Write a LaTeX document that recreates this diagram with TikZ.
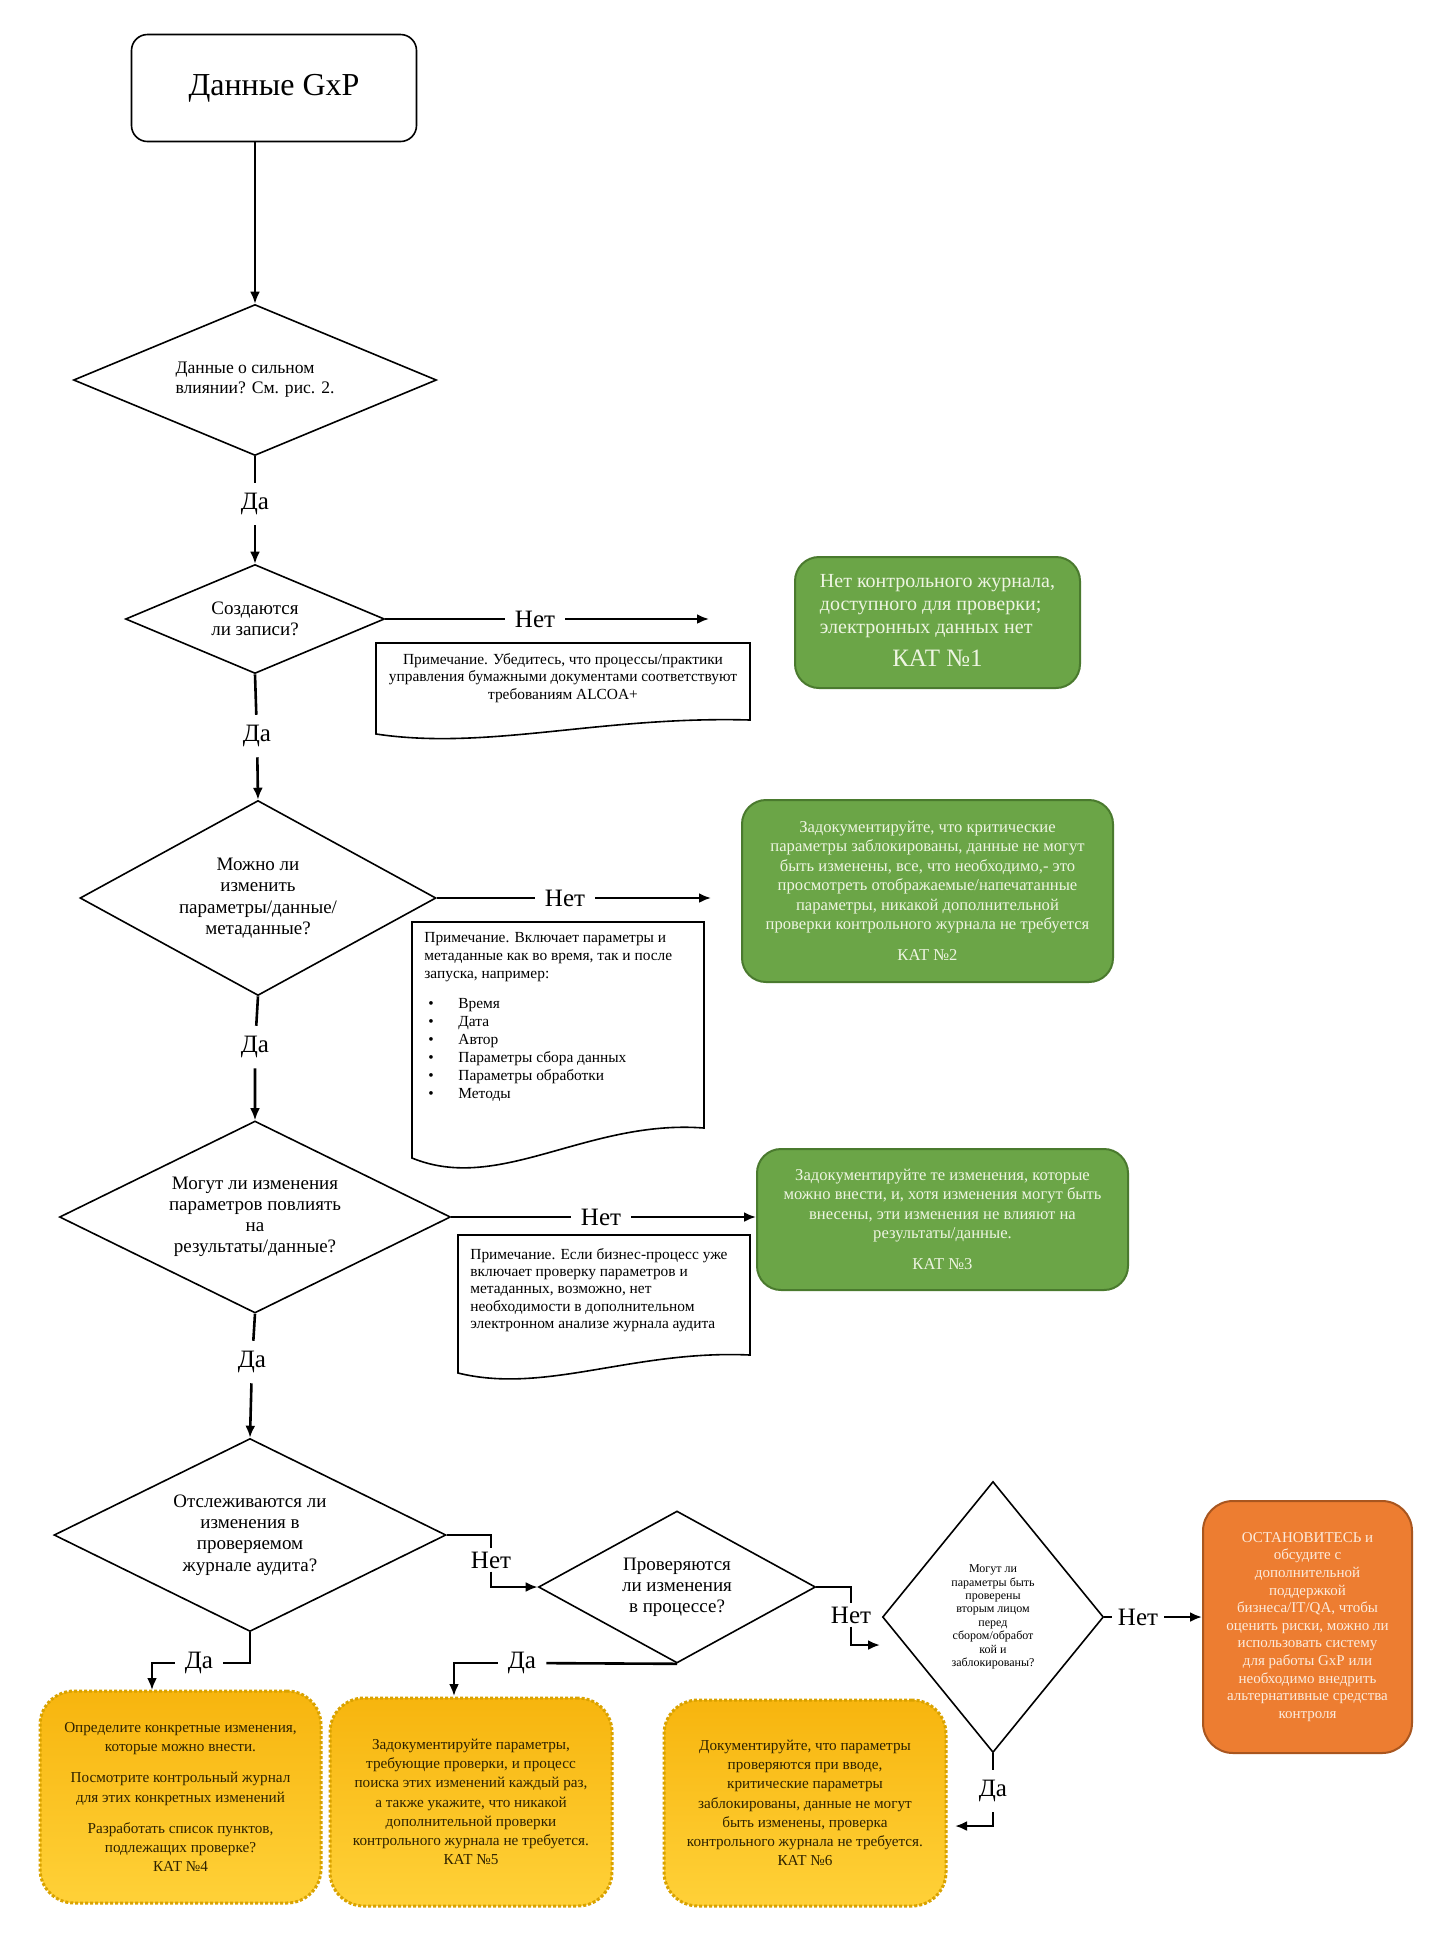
\documentclass[tikz,border=0pt]{standalone}
\usepackage{fontspec}
\setmainfont{Liberation Serif}
\usetikzlibrary{shapes.geometric,arrows.meta}
\definecolor{okgreen}{HTML}{6BA547}
\definecolor{okline}{HTML}{4A7A2E}
\definecolor{oktext}{HTML}{EEF5E2}
\definecolor{stopfill}{HTML}{ED7D31}
\definecolor{stopline}{HTML}{A9561F}
\definecolor{stoptext}{HTML}{FCEBDC}
\definecolor{goldtop}{HTML}{F7B50E}
\definecolor{goldbot}{HTML}{FFD138}
\definecolor{goldline}{HTML}{D9A200}
\definecolor{goldtext}{HTML}{2E2200}

% note sheet with wavy bottom: L, T, R, y left corner, y right corner
\newcommand\notesheet[5]{%
  \draw[line width=0.8pt] (#1,#4) -- (#1,#2) -- (#3,#2) -- (#3,#5)
    .. controls ({#1+0.6*(#3-#1)},{#5-0.3*(#4-#5)}) and ({#1+0.3*(#3-#1)},{#4+1.2*(#4-#5)}) .. cycle;
}

\begin{document}
\begin{tikzpicture}[x=0.5pt,y=-0.5pt,
  conn/.style={line width=1.3pt},
  arr/.style={conn,-{Latex[length=6pt,width=5pt]}},
  startbox/.style={draw,line width=0.8pt,rounded corners=8pt,minimum width=142.5pt,minimum height=53.5pt,font=\fontsize{16}{18}\selectfont},
  dec/.style={diamond,draw,line width=0.8pt,inner sep=0pt,align=center,font=\fontsize{9.5}{10.6}\selectfont},
  lbl/.style={inner sep=5pt,font=\fontsize{12.5}{14}\selectfont},
  lbls/.style={lbl,inner sep=1.5pt},
  notetext/.style={inner sep=0pt,font=\fontsize{7.7}{8.7}\selectfont},
  okbox/.style={draw=okline,line width=1pt,fill=okgreen,text=oktext,rounded corners=12pt,inner sep=0pt,align=center,font=\fontsize{8.3}{9.7}\selectfont},
  goldbox/.style={draw=goldline,densely dotted,line width=1.5pt,top color=goldtop,bottom color=goldbot,text=goldtext,rounded corners=17pt,inner sep=0pt,align=center,font=\fontsize{7.6}{9.6}\selectfont},
  stopbox/.style={draw=stopline,line width=1pt,fill=stopfill,text=stoptext,rounded corners=15pt,inner sep=0pt,align=center,font=\fontsize{7.5}{8.8}\selectfont}]

\useasboundingbox (0,0) rectangle (1450,1950);
\fill[white] (0,0) rectangle (1450,1950);

% main column of questions
\node[startbox] (start) at (274,88) {Данные GxP};
\node[dec,aspect=2.4,minimum width=181.5pt,minimum height=75.5pt,align=left,font=\fontsize{8.8}{10}\selectfont] (d1) at (255,380)
  {Данные о сильном\\влиянии? См. рис. 2.};
\node[dec,aspect=2.4,minimum width=129.5pt,minimum height=54.5pt] (d2) at (255,619)
  {Создаются\\ли записи?};
\node[dec,aspect=1.8,minimum width=178pt,minimum height=97.5pt] (d3) at (258,898)
  {Можно ли\\изменить\\параметры/данные/\\метаданные?};
\node[dec,aspect=2,minimum width=195.5pt,minimum height=96pt] (d4) at (255,1217)
  {Могут ли изменения\\параметров повлиять\\на\\результаты/данные?};
\node[dec,aspect=2,minimum width=196pt,minimum height=96.5pt] (d5) at (250,1535)
  {Отслеживаются ли\\изменения в\\проверяемом\\журнале аудита?};
\node[dec,aspect=1.8,minimum width=138.5pt,minimum height=76pt] (d6) at (677,1587)
  {Проверяются\\ли изменения\\в процессе?};
\node[dec,aspect=0.8,minimum width=110.5pt,minimum height=135.5pt,font=\fontsize{6}{6.7}\selectfont] (d7) at (993,1617)
  {Могут ли\\параметры быть\\проверены\\вторым лицом\\перед\\сбором/обработ\\кой и\\заблокированы?};

% answers
\foreach \name/\x/\y/\txt in {yes1/255/504/Да,no1/535/619/Нет,yes2/257/736/Да,no2/565/898/Нет,
    yes3/255/1047/Да,no3/601/1217/Нет,yes4/252/1362/Да,yes5/199/1663/Да,yes6/522/1663/Да,yes7/993/1791/Да}
  \node[lbl] (\name) at (\x,\y) {\txt};
\foreach \name/\x/\y in {no4/491/1560,no5/851/1615}
  \node[lbls] (\name) at (\x,\y) {Нет};
\node[lbl,inner xsep=3pt] (no6) at (1138,1617) {Нет};

% categories
\node[okbox,minimum width=142.5pt,minimum height=65.5pt,font=\fontsize{10}{11.5}\selectfont] (cat1) at (937.5,622.5)
  {\begin{tabular}{@{}l@{}}Нет контрольного журнала,\\доступного для проверки;\\электронных данных нет\\[5pt]
   \multicolumn{1}{@{}c@{}}{\fontsize{12.5}{14}\selectfont КАТ №1}\end{tabular}};
\node[okbox,minimum width=185.5pt,minimum height=91pt] (cat2) at (927.5,891)
  {Задокументируйте, что критические\\параметры заблокированы, данные не могут\\быть изменены, все, что необходимо,- это\\
   просмотреть отображаемые/напечатанные\\параметры, никакой дополнительной\\проверки контрольного журнала не требуется\\[6pt]КАТ №2};
\node[okbox,minimum width=185.5pt,minimum height=70.5pt] (cat3) at (942.5,1219.5)
  {Задокументируйте те изменения, которые\\можно внести, и, хотя изменения могут быть\\внесены, эти изменения не влияют на\\результаты/данные.\\[6pt]КАТ №3};
\node[goldbox,minimum width=140.5pt,minimum height=106pt] (cat4) at (180.5,1797)
  {Определите конкретные изменения,\\которые можно внести.\\[6pt]Посмотрите контрольный журнал\\для этих конкретных изменений\\[6pt]
   Разработать список пунктов,\\подлежащих проверке?\\КАТ №4};
\node[goldbox,minimum width=141pt,minimum height=104pt] (cat5) at (471,1802)
  {Задокументируйте параметры,\\требующие проверки, и процесс\\поиска этих изменений каждый раз,\\а также укажите, что никакой\\
   дополнительной проверки\\контрольного журнала не требуется.\\КАТ №5};
\node[goldbox,minimum width=141pt,minimum height=103pt] (cat6) at (805,1803)
  {Документируйте, что параметры\\проверяются при вводе,\\критические параметры\\заблокированы, данные не могут\\
   быть изменены, проверка\\контрольного журнала не требуется.\\КАТ №6};
\node[stopbox,minimum width=104.5pt,minimum height=126pt] (stop) at (1307.5,1627)
  {ОСТАНОВИТЕСЬ и\\обсудите с\\дополнительной\\поддержкой\\бизнеса/IT/QA, чтобы\\оценить риски, можно ли\\
   использовать систему\\для работы GxP или\\необходимо внедрить\\альтернативные средства\\контроля};

% notes
\notesheet{376}{643}{750}{734}{720}
\node[notetext,align=center] (note1) at (563,678)
  {Примечание. Убедитесь, что процессы/практики\\управления бумажными документами соответствуют\\требованиям ALCOA+};
\notesheet{412}{922}{704}{1158}{1128}
\node[notetext,align=left,anchor=north west,font=\fontsize{7.7}{9}\selectfont] (note2) at (424,932)
  {Примечание. Включает параметры и\\метаданные как во время, так и после\\запуска, например:\\[6pt]
   \makebox[17pt][l]{\hspace{2pt}\textbullet}Время\\\makebox[17pt][l]{\hspace{2pt}\textbullet}Дата\\
   \makebox[17pt][l]{\hspace{2pt}\textbullet}Автор\\\makebox[17pt][l]{\hspace{2pt}\textbullet}Параметры сбора данных\\
   \makebox[17pt][l]{\hspace{2pt}\textbullet}Параметры обработки\\\makebox[17pt][l]{\hspace{2pt}\textbullet}Методы};
\notesheet{458}{1235}{750}{1373}{1355}
\node[notetext,align=left,anchor=north west,font=\fontsize{7.7}{8.6}\selectfont] (note3) at (470,1248)
  {Примечание. Если бизнес-процесс уже\\включает проверку параметров и\\метаданных, возможно, нет\\необходимости в дополнительном\\электронном анализе журнала аудита};

% free ends
\coordinate (c1) at (709,619);
\coordinate (c2) at (711,898);
\coordinate (c3) at (880,1645);
\coordinate (c4) at (955,1826);
\coordinate (c5) at (152,1690);
\coordinate (c6) at (454,1696);

% connectors
\draw[arr] (start.south -| d1.north) -- (d1.north);
\draw[arr] (d1.south) -- (yes1) -- (d2.north);
\draw[arr] (d2.east) -- (no1) -- (c1);
\draw[arr] (d2.south) -- (yes2) -- (d3.north);
\draw[arr] (d3.east) -- (no2) -- (c2);
\draw[arr] (d3.south) -- (yes3) -- (d4.north);
\draw[arr] (d4.east) -- (no3) -- (no3 -| cat3.west);
\draw[arr] (d4.south) -- (yes4) -- (d5.north);
\draw[conn] (d5.east) -| (no4);
\draw[arr] (no4) |- (d6.west);
\draw[conn] (d5.south) |- (yes5);
\draw[arr] (yes5) -| (c5);
\draw[conn] (d6.south) -- (yes6);
\draw[arr] (yes6) -| (c6);
\draw[conn] (d6.east) -| (no5);
\draw[arr] (no5) |- (c3);
\draw[arr] (d7.east) -- (no6) -- (no6 -| stop.west);
\draw[conn] (d7.south) -- (yes7);
\draw[arr] (yes7) |- (c4);
\end{tikzpicture}
\end{document}
